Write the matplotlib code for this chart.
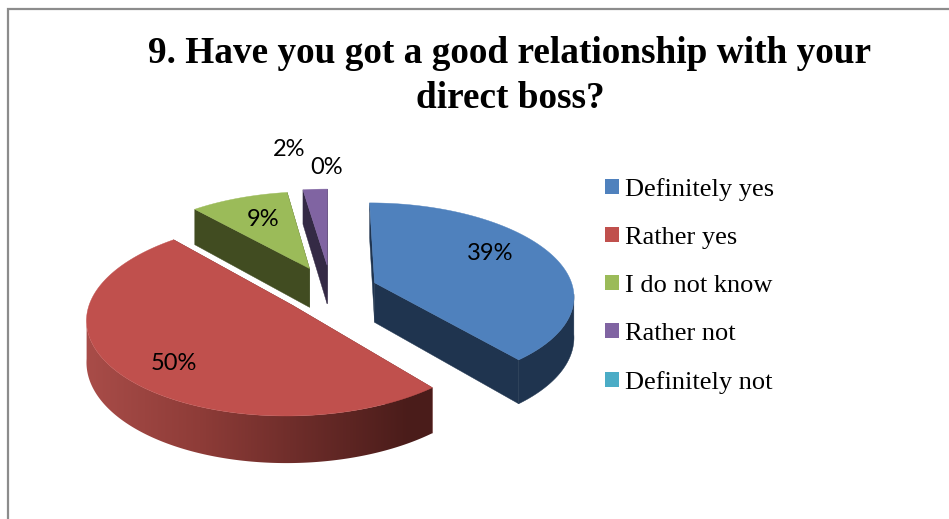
import matplotlib
matplotlib.use('Agg')
import matplotlib.pyplot as plt
from matplotlib.patches import Polygon, Patch
import numpy as np

# --- Data ---
TITLE = "9. Have you got a good relationship with your\ndirect boss?"
categories = ['Definitely yes', 'Rather yes', 'I do not know', 'Rather not', 'Definitely not']
values = [39, 49.5, 9.2, 2.3, 0]  # slice sizes, labels are rounded
labels = ['39%', '50%', '9%', '2%', '0%']

# --- Style ---
TOP_COLORS = ['#4F81BD', '#C0504D', '#9BBB59', '#8064A2', '#4BACC6']
SIDE_COLORS = ['#1F344F', '#6E2E2B', '#414C21', '#342A45', '#1F4F5C']
EXPLODE = [0.235, 0.25, 0.265, 0.28, 0.28]
LABEL_POS = [(490, 254), (174, 364), (263, 219), (289, 150), (327, 168)]

# pie geometry in image pixels
CX, CY = 331, 290
RX, RY = 199, 92
PERSP = 0.13
DEPTH = 40
W, H = 949, 519


def project(x, y, drop=0.0):
    """Disc coordinates to screen, closer points (y<0) get bigger."""
    f = 1.0 / (1.0 + PERSP * y)
    return CX + RX * x * f, CY - RY * y * f + drop * f


def red_gradient():
    # the big slice wall runs lighter to darker from left to right
    xs = np.arange(W)
    stops = [90, 200, 290, 410]
    rgb = [np.interp(xs, stops, [168, 142, 112, 74]),
           np.interp(xs, stops, [76, 60, 46, 28]),
           np.interp(xs, stops, [72, 56, 43, 26])]
    return np.dstack(rgb).astype(np.uint8)


def draw_slice(ax, i, start, end, z):
    theta = np.radians(np.linspace(start, end, max(int(end - start) * 2, 2)))
    mid = np.radians((start + end) / 2)
    ox, oy = EXPLODE[i] * np.sin(mid), EXPLODE[i] * np.cos(mid)
    xs, ys = ox + np.sin(theta), oy + np.cos(theta)

    tx, ty = project(xs, ys)
    bx, by = project(xs, ys, DEPTH)
    ax0, ay0 = project(ox, oy)
    ax1, ay1 = project(ox, oy, DEPTH)
    side = SIDE_COLORS[i]

    # cut faces
    for k in (0, -1):
        face = [(ax0, ay0), (tx[k], ty[k]), (bx[k], by[k]), (ax1, ay1)]
        ax.add_patch(Polygon(face, closed=True, fc=side, ec=side, lw=0.3, zorder=z))

    # outer wall, only the part that faces the viewer
    front = np.cos(theta) <= -0.12
    if front.sum() > 1:
        wall_pts = np.column_stack([np.r_[tx[front], bx[front][::-1]],
                                    np.r_[ty[front], by[front][::-1]]])
        if i == 1:
            wall = Polygon(wall_pts, closed=True, fc='none', ec='none')
            ax.add_patch(wall)
            im = ax.imshow(red_gradient(), extent=(0, W, H, 0), aspect='auto',
                           interpolation='bilinear', zorder=z + 1)
            im.set_clip_path(wall)
        else:
            ax.add_patch(Polygon(wall_pts, closed=True, fc=side, ec=side, lw=0.3, zorder=z + 1))

    # top surface
    top = np.column_stack([np.r_[ax0, tx], np.r_[ay0, ty]])
    ax.add_patch(Polygon(top, closed=True, fc=TOP_COLORS[i], ec=TOP_COLORS[i], lw=0.3, zorder=z + 2))


fig = plt.figure(figsize=(W / 100, H / 100), dpi=100)
ax = fig.add_axes([0, 0, 1, 1])
ax.axis('off')

# chart frame, runs off the right and bottom of the crop
ax.plot([8.5, 8.5, W], [H, 9.2, 9.2], color='#8C8C8C', lw=1.6, solid_joinstyle='miter')

# angles clockwise from 12 o'clock
edges = np.r_[0, np.cumsum(values)] / np.sum(values) * 360.0
for n, i in enumerate([3, 2, 0, 1]):  # back to front
    draw_slice(ax, i, edges[i], edges[i + 1], 2 + n * 3)

ax.set_xlim(0, W)
ax.set_ylim(H, 0)

for lab, (x, y) in zip(labels, LABEL_POS):
    ax.text(x, y, lab, family='Lato', fontsize=17, color='black', ha='center', va='center', zorder=20)

ax.text(510, 63, TITLE.split('\n')[0], family='Liberation Serif', fontweight='bold',
        fontsize=26.8, ha='center', va='baseline', color='black')
ax.text(510, 108, TITLE.split('\n')[1], family='Liberation Serif', fontweight='bold',
        fontsize=26.8, ha='center', va='baseline', color='black')

handles = [Patch(fc=c, ec='none', label=n) for c, n in zip(TOP_COLORS, categories)]
ax.legend(handles=handles, loc='upper left', bbox_to_anchor=(605 / W, 1 - 178 / H),
          bbox_transform=ax.transAxes, frameon=False, borderpad=0, borderaxespad=0,
          prop={'family': 'Liberation Serif', 'size': 19}, labelcolor='black',
          handlelength=0.53, handleheight=0.53, handletextpad=0.23, labelspacing=0.98)

fig.savefig('out.png', dpi=100, facecolor='white')
